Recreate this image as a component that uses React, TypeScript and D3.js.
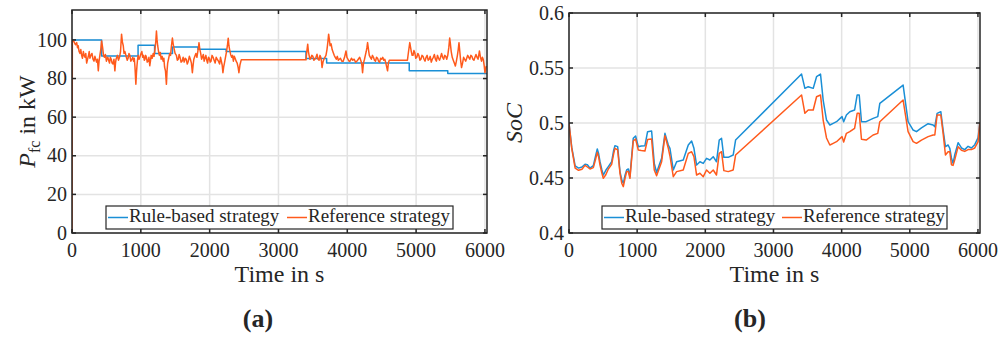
import React from 'react';
import * as d3 from 'd3';

// ticks
const timeTicks = [0, 1000, 2000, 3000, 4000, 5000, 6000];
const pfcTicks = [0, 20, 40, 60, 80, 100];
const socTicks = [0.4, 0.45, 0.5, 0.55, 0.6];
const seriesNames = ['Rule-based strategy', 'Reference strategy'];

// (a) fuel cell power, kW
const ruleStepTime = [0, 430, 960, 1200, 1460, 1830, 2240, 3400, 3700, 4900, 5460, 6030];
const ruleStepPfc = [100, 91.7, 97.2, 93, 96.4, 95.2, 94, 90.4, 88, 84, 82.6, 82.6];

const refPfcTime = [
  0, 5, 18, 30, 50, 68, 80, 90, 103, 116,
  128, 140, 152, 165, 176, 188, 200, 213, 226, 240,
  250, 260, 275, 290, 305, 320, 333, 345, 357, 370,
  382, 393, 405, 418, 430, 437, 445, 458, 470, 485,
  500, 510, 520, 532, 545, 557, 570, 582, 595, 610,
  623, 632, 640, 650, 660, 675, 690, 705, 720, 732,
  745, 756, 768, 780, 790, 803, 815, 828, 840, 855,
  870, 883, 895, 905, 915, 928, 937, 945, 953, 961,
  975, 990, 1003, 1015, 1028, 1040, 1050, 1060, 1070, 1082,
  1093, 1105, 1118, 1130, 1140, 1150, 1165, 1180, 1192, 1205,
  1217, 1227, 1236, 1245, 1258, 1270, 1283, 1295, 1310, 1324,
  1335, 1345, 1358, 1372, 1381, 1390, 1405, 1420, 1432, 1445,
  1452, 1459, 1470, 1480, 1498, 1517, 1530, 1545, 1557, 1570,
  1585, 1600, 1615, 1630, 1645, 1660, 1675, 1690, 1705, 1720,
  1735, 1749, 1760, 1770, 1785, 1800, 1815, 1830, 1838, 1845,
  1858, 1870, 1883, 1895, 1908, 1920, 1932, 1945, 1958, 1970,
  1983, 1995, 2008, 2020, 2035, 2050, 2065, 2080, 2095, 2110,
  2128, 2145, 2158, 2170, 2182, 2193, 2204, 2215, 2230, 2245,
  2258, 2270, 2280, 2290, 2305, 2320, 2333, 2345, 2358, 2370,
  2385, 2400, 2413, 2425, 2440, 2459, 3400, 3412, 3425, 3435,
  3445, 3458, 3470, 3485, 3500, 3515, 3530, 3545, 3560, 3575,
  3590, 3603, 3615, 3625, 3633, 3647, 3660, 3675, 3690, 3705,
  3718, 3729, 3740, 3750, 3765, 3780, 3795, 3810, 3825, 3840,
  3855, 3870, 3885, 3900, 3920, 3940, 3960, 3981, 3995, 4010,
  4025, 4040, 4060, 4080, 4100, 4120, 4140, 4160, 4180, 4200,
  4212, 4222, 4235, 4250, 4262, 4275, 4285, 4295, 4308, 4320,
  4335, 4350, 4365, 4380, 4395, 4410, 4425, 4440, 4455, 4470,
  4485, 4500, 4515, 4530, 4545, 4560, 4572, 4585, 4597, 4610,
  4874, 4890, 4908, 4920, 4930, 4942, 4955, 4968, 4980, 4995,
  5010, 5025, 5040, 5055, 5070, 5085, 5100, 5115, 5130, 5145,
  5160, 5175, 5190, 5205, 5220, 5235, 5250, 5265, 5280, 5295,
  5310, 5325, 5340, 5355, 5370, 5385, 5400, 5415, 5430, 5445,
  5460, 5475, 5488, 5498, 5510, 5525, 5540, 5555, 5570, 5585,
  5600, 5612, 5623, 5635, 5645, 5652, 5660, 5675, 5690, 5705,
  5720, 5735, 5750, 5765, 5780, 5795, 5810, 5825, 5840, 5855,
  5870, 5885, 5900, 5910, 5920, 5935, 5950, 5963, 5975, 5988,
  6000, 6010, 6020,
];
const refPfc = [
  0, 100, 99.5, 99, 97.5, 98.6, 96, 97, 94, 93,
  95, 92, 90.5, 94, 92, 91, 93, 88, 90, 92,
  94, 90.5, 92, 93, 90, 89, 91.5, 90, 88.5, 90,
  84, 89, 92, 95, 99.5, 98, 96, 92, 91, 92.5,
  89, 90.5, 91, 89.5, 88, 91, 90, 88, 87.5, 90,
  84, 88, 90, 91, 92, 89.5, 91, 94, 103, 99,
  97, 93, 94, 92.5, 91, 89.5, 90.5, 93, 92, 89,
  90, 91, 89, 90.5, 86, 77, 83, 87, 90, 92,
  90, 91.5, 93, 94, 91, 92, 89.5, 90, 92, 91,
  88.5, 89, 91, 86.6, 89, 92, 90.5, 93, 91.5, 95,
  99, 104.6, 100, 97, 94, 92, 93.5, 90, 91.5, 89,
  90.5, 86, 84, 77, 84, 88, 90.5, 93, 92, 97,
  99, 101, 98, 96, 93, 92, 89.5, 90, 92.5, 91,
  88.5, 89, 91, 88.5, 90.5, 90, 87.5, 89, 91.5, 90,
  88, 83, 87, 90, 91.5, 93, 91, 94.5, 96, 98.6,
  95, 93, 90, 91, 92.5, 89, 90.5, 92, 89.5, 88,
  91, 90.5, 88.5, 89, 92, 91, 89.5, 88, 91, 90,
  89, 87.5, 91, 89, 87, 83, 86, 88, 91, 94,
  97, 100.9, 97, 95, 92.5, 91, 92, 89, 91.5, 90.5,
  89, 88, 86, 83, 87, 89.7, 89.7, 94, 97.8, 94,
  92, 90, 90.5, 92, 91.5, 89.5, 90, 91, 92.6, 90,
  89.5, 92, 91, 89, 85.7, 88.5, 90, 91, 92, 95,
  99, 103, 100, 97, 98, 95, 93.5, 92, 91, 90,
  91.5, 89.5, 90, 90.5, 89, 89, 91, 94.3, 91, 90,
  89, 89, 90.5, 89.5, 90, 88.5, 89, 90, 91, 89,
  87, 83, 88, 90, 92, 94, 96, 98.6, 95, 92,
  91, 90, 92, 91, 89.5, 89, 91, 90.5, 89, 88.5,
  90.5, 90, 91, 89.5, 90, 88, 86, 84, 88, 89.5,
  89.5, 94, 98.6, 96, 94, 92, 92, 94.5, 93.5, 90.5,
  91, 93, 92, 89.5, 90, 92, 91.5, 90, 89, 91,
  92, 89.5, 90, 91.5, 88.5, 90, 91, 92.5, 90, 89,
  92, 90.5, 89.5, 91, 93, 91, 90, 92, 91.5, 90,
  92, 96, 101, 98, 94, 91, 89.5, 88, 86.5, 89,
  92, 95, 98.6, 94, 90, 88, 85.7, 88, 91, 90,
  89, 90.5, 92, 91, 90, 92, 91.5, 90, 89.5, 91,
  92.5, 91, 90, 92, 94.3, 91, 89, 91, 90, 87,
  83, 85, 86.5,
];

// (b) battery state of charge
const socTime = [
  0, 40, 90, 140, 190, 235, 270, 308, 357, 390, 415, 435, 455, 480, 503, 540, 577, 626, 655, 674,
  714, 748, 775, 797, 820, 846, 870, 894, 920, 943, 977, 1017, 1060, 1114, 1153, 1212, 1251, 1285, 1359, 1408,
  1457, 1481, 1530, 1579, 1676, 1750, 1799, 1833, 1872, 1921, 1970, 2018, 2067, 2116, 2164, 2204, 2238, 2272, 2336, 2409,
  2444, 3412, 3461, 3510, 3583, 3632, 3690, 3729, 3778, 3827, 3876, 3925, 4006, 4030, 4070, 4120, 4190, 4228, 4258, 4291,
  4360, 4462, 4530, 4560, 4902, 4975, 5049, 5098, 5171, 5269, 5342, 5367, 5401, 5455, 5489, 5523, 5562, 5587, 5611, 5635,
  5660, 5709, 5758, 5806, 5855, 5904, 5953, 6002, 6026,
];
const ruleSoc = [
  0.5, 0.478, 0.461, 0.459, 0.46, 0.4625, 0.462, 0.459, 0.4612, 0.47, 0.4764, 0.472, 0.4648, 0.458, 0.4527, 0.457, 0.4603, 0.4648, 0.475, 0.4794,
  0.4785, 0.4558, 0.448, 0.4452, 0.452, 0.4573, 0.4582, 0.4512, 0.47, 0.4861, 0.4882, 0.4785, 0.479, 0.4794, 0.4921, 0.4927, 0.4633, 0.455, 0.4679, 0.4906,
  0.48, 0.477, 0.4573, 0.4648, 0.4664, 0.48, 0.4836, 0.477, 0.4618, 0.4648, 0.4633, 0.4679, 0.4664, 0.4694, 0.4648, 0.4845, 0.4861, 0.4688, 0.4688, 0.4709,
  0.4845, 0.5445, 0.5315, 0.533, 0.5315, 0.5421, 0.5445, 0.5209, 0.5027, 0.4982, 0.4997, 0.5012, 0.5058, 0.5012, 0.5073, 0.5103, 0.5118, 0.5255, 0.5255, 0.5012,
  0.5012, 0.5042, 0.5058, 0.5179, 0.5345, 0.5012, 0.4936, 0.4921, 0.4955, 0.4994, 0.4982, 0.4967, 0.5088, 0.5103, 0.4936, 0.4785, 0.48, 0.477, 0.4682, 0.4633,
  0.4712, 0.4821, 0.4773, 0.4758, 0.4788, 0.4773, 0.4803, 0.4867, 0.4997,
];
const refSoc = [
  0.5, 0.477, 0.459, 0.457, 0.458, 0.4615, 0.46, 0.4582, 0.4594, 0.467, 0.4733, 0.469, 0.4618, 0.455, 0.4497, 0.453, 0.4582, 0.4624, 0.472, 0.477,
  0.4755, 0.4543, 0.445, 0.4421, 0.449, 0.4558, 0.4558, 0.4497, 0.468, 0.4836, 0.4855, 0.4755, 0.475, 0.4745, 0.485, 0.4855, 0.4573, 0.452, 0.4648, 0.4885,
  0.477, 0.47, 0.4512, 0.4558, 0.4573, 0.4724, 0.4739, 0.4694, 0.4527, 0.4543, 0.4512, 0.4573, 0.4543, 0.4573, 0.4527, 0.4724, 0.4739, 0.4567, 0.4558, 0.4573,
  0.4709, 0.5255, 0.5088, 0.5118, 0.5118, 0.5239, 0.5255, 0.5027, 0.4864, 0.48, 0.4815, 0.483, 0.4876, 0.4827, 0.4906, 0.4921, 0.4952, 0.5088, 0.5088, 0.4852,
  0.4845, 0.4891, 0.4906, 0.5012, 0.5209, 0.4921, 0.483, 0.4815, 0.4845, 0.4876, 0.4891, 0.4891, 0.5073, 0.5073, 0.4906, 0.4709, 0.4739, 0.4739, 0.4621, 0.4615,
  0.4667, 0.4785, 0.4752, 0.4742, 0.4758, 0.4758, 0.4773, 0.483, 0.4997,
];

const BLUE = '#1a8fd6';
const ORANGE = '#ff5a1c';
const INK = '#262626';
const GRID = '#e3e3e3';
const FONT = "'Liberation Serif', 'DejaVu Serif', serif";

type Pt = [number, number];
const zip = (xs: number[], ys: number[]): Pt[] => xs.map((x, i) => [x, ys[i]]);

interface PanelProps {
  id: string;
  box: { left: number; right: number; top: number; bottom: number };
  yDomain: [number, number];
  yTicks: number[];
  blue: Pt[];
  orange: Pt[];
  blueStep?: boolean;
  yLabel: React.ReactNode;
  yLabelX: number;
  legend: { x: number; w: number; orangeX: number };
  caption: string;
  captionX: number;
}

const Panel: React.FC<PanelProps> = ({ id, box, yDomain, yTicks, blue, orange, blueStep, yLabel, yLabelX, legend, caption, captionX }) => {
  const x = d3.scaleLinear().domain([0, 6030]).range([box.left, box.right]);
  const y = d3.scaleLinear().domain(yDomain).range([box.bottom, box.top]);
  const line = d3.line<Pt>().x(d => x(d[0])).y(d => y(d[1]));
  const stepLine = d3.line<Pt>().x(d => x(d[0])).y(d => y(d[1])).curve(d3.curveStepAfter);
  const tl = 4;
  const midX = (box.left + box.right) / 2;
  const midY = (box.top + box.bottom) / 2;
  const lg = { y: 206, h: 23 };

  return (
    <g style={{ fontFamily: FONT }} fill={INK}>
      <defs>
        <clipPath id={id}>
          <rect x={box.left} y={box.top} width={box.right - box.left} height={box.bottom - box.top} />
        </clipPath>
      </defs>
      {/* grid */}
      {timeTicks.map(t => (
        <line key={'gx' + t} x1={x(t)} x2={x(t)} y1={box.top} y2={box.bottom} stroke={GRID} strokeWidth={1.5} />
      ))}
      {yTicks.map(t => (
        <line key={'gy' + t} x1={box.left} x2={box.right} y1={y(t)} y2={y(t)} stroke={GRID} strokeWidth={1.5} />
      ))}
      {/* series */}
      <g clipPath={`url(#${id})`} fill="none" strokeWidth={1.5} strokeLinejoin="round">
        <path d={(blueStep ? stepLine(blue) : line(blue)) || ''} stroke={BLUE} />
        <path d={line(orange) || ''} stroke={ORANGE} />
      </g>
      {/* box + ticks */}
      <rect x={box.left} y={box.top} width={box.right - box.left} height={box.bottom - box.top} fill="none" stroke={INK} strokeWidth={1.5} />
      {timeTicks.map(t => (
        <g key={'tx' + t} stroke={INK} strokeWidth={1.5}>
          <line x1={x(t)} x2={x(t)} y1={box.bottom} y2={box.bottom - tl} />
          <line x1={x(t)} x2={x(t)} y1={box.top} y2={box.top + tl} />
        </g>
      ))}
      {yTicks.map(t => (
        <g key={'ty' + t} stroke={INK} strokeWidth={1.5}>
          <line x1={box.left} x2={box.left + tl} y1={y(t)} y2={y(t)} />
          <line x1={box.right} x2={box.right - tl} y1={y(t)} y2={y(t)} />
        </g>
      ))}
      {/* tick labels */}
      {timeTicks.map(t => (
        <text key={'lx' + t} x={x(t)} y={257} textAnchor="middle" fontSize={20}>{t}</text>
      ))}
      {yTicks.map(t => (
        <text key={'ly' + t} x={box.left - 5} y={y(t)} dy="0.33em" textAnchor="end" fontSize={20}>{String(t)}</text>
      ))}
      {/* axis labels */}
      <text x={midX} y={282} textAnchor="middle" fontSize={24}>Time in s</text>
      <text transform={`translate(${yLabelX},${midY}) rotate(-90)`} textAnchor="middle" fontSize={24}>{yLabel}</text>
      <text x={captionX} y={327} textAnchor="middle" fontSize={26} fontWeight="bold">{caption}</text>
      {/* legend */}
      <rect x={legend.x} y={lg.y} width={legend.w} height={lg.h} fill="#fff" stroke={INK} strokeWidth={1.2} />
      <line x1={legend.x + 2} x2={legend.x + 22} y1={lg.y + lg.h / 2} y2={lg.y + lg.h / 2} stroke={BLUE} strokeWidth={1.5} />
      <text x={legend.x + 23} y={lg.y + 16} fontSize={19}>{seriesNames[0]}</text>
      <line x1={legend.orangeX} x2={legend.orangeX + 20} y1={lg.y + lg.h / 2} y2={lg.y + lg.h / 2} stroke={ORANGE} strokeWidth={1.5} />
      <text x={legend.orangeX + 21} y={lg.y + 16} fontSize={19}>{seriesNames[1]}</text>
    </g>
  );
};

export default function App() {
  return (
    <svg width={998} height={338} style={{ position: 'absolute', left: 0, top: 0, background: '#fff' }}>
      <Panel
        id="clipA"
        box={{ left: 72, right: 487, top: 10, bottom: 233 }}
        yDomain={[0, 115.5]}
        yTicks={pfcTicks}
        blue={zip(ruleStepTime, ruleStepPfc)}
        orange={zip(refPfcTime, refPfc)}
        blueStep
        yLabel={<><tspan fontStyle="italic">P</tspan><tspan fontSize={16} dy={5}>fc</tspan><tspan dy={-5}> in kW</tspan></>}
        yLabelX={35}
        legend={{ x: 106, w: 347, orangeX: 287 }}
        caption="(a)"
        captionX={258}
      />
      <Panel
        id="clipB"
        box={{ left: 569, right: 980, top: 13, bottom: 233 }}
        yDomain={[0.4, 0.6]}
        yTicks={socTicks}
        blue={zip(socTime, ruleSoc)}
        orange={zip(socTime, refSoc)}
        yLabel={<tspan fontStyle="italic">SoC</tspan>}
        yLabelX={522}
        legend={{ x: 602, w: 345, orangeX: 782 }}
        caption="(b)"
        captionX={750}
      />
    </svg>
  );
}
